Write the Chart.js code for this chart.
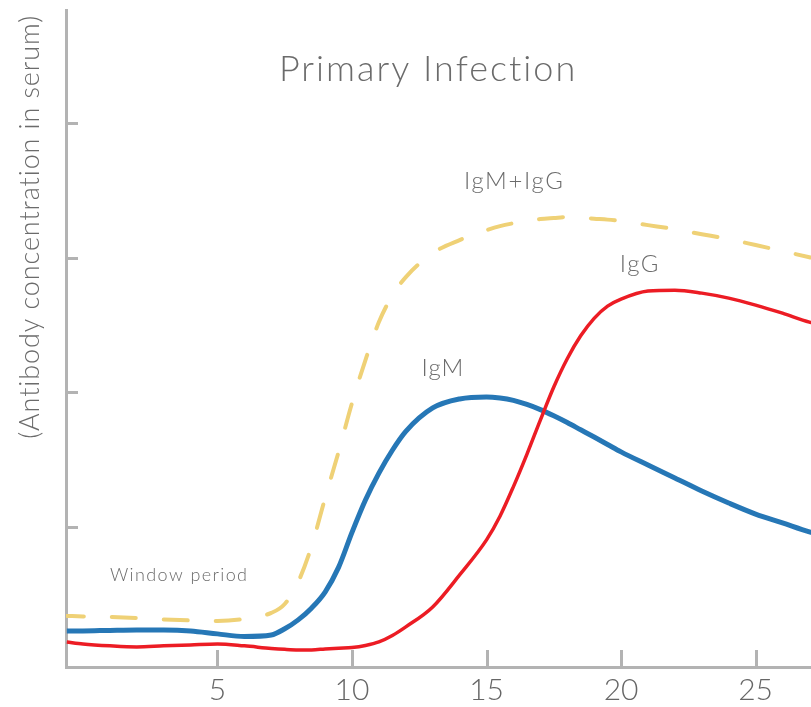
<!DOCTYPE html>
<html>
<head>
<meta charset="utf-8">
<script src="https://cdn.jsdelivr.net/npm/chart.js@4.4.1/dist/chart.umd.min.js"></script>
<style>
  html, body { margin: 0; padding: 0; background: #ffffff; }
  canvas { display: block; }
</style>
</head>
<body>
<canvas id="c" width="811" height="707"></canvas>
<script>
// ---- data (days after infection vs. relative antibody concentration) ----
const days   = [-0.6, 0, 1, 2, 3, 4, 5, 6, 7, 7.5, 8, 8.5, 9, 9.5, 10, 10.5, 11, 11.5, 12, 13, 14, 15, 15.5, 16, 16.5, 17, 17.5, 18, 18.5, 19, 19.5, 20, 21, 22, 23, 24, 25, 26, 27, 27.1];
const igm    = [0.228, 0.228, 0.232, 0.235, 0.235, 0.228, 0.206, 0.187, 0.198, 0.244, 0.310, 0.399, 0.517, 0.700, 0.960, 1.200, 1.400, 1.570, 1.710, 1.884, 1.951, 1.966, 1.958, 1.940, 1.910, 1.872, 1.826, 1.776, 1.722, 1.668, 1.613, 1.558, 1.460, 1.364, 1.267, 1.178, 1.096, 1.030, 0.963, 0.958];
const igg    = [0.146, 0.131, 0.117, 0.109, 0.117, 0.124, 0.131, 0.117, 0.098, 0.091, 0.087, 0.087, 0.094, 0.100, 0.105, 0.120, 0.146, 0.194, 0.258, 0.406, 0.644, 0.904, 1.080, 1.300, 1.540, 1.794, 2.040, 2.250, 2.420, 2.550, 2.640, 2.692, 2.752, 2.759, 2.737, 2.700, 2.648, 2.588, 2.522, 2.518];
const igmIgg = [0.339, 0.336, 0.332, 0.324, 0.313, 0.306, 0.302, 0.317, 0.362, 0.428, 0.592, 0.859, 1.215, 1.557, 1.921, 2.240, 2.522, 2.720, 2.856, 3.034, 3.131, 3.205, 3.235, 3.256, 3.272, 3.287, 3.295, 3.302, 3.298, 3.290, 3.283, 3.272, 3.242, 3.212, 3.175, 3.138, 3.094, 3.049, 3.004, 3.000];

const xTicks = [5, 10, 15, 20, 25];
const yTicks = [1, 2, 3, 4];
const xRange = [-0.63, 27.06];
const yRange = [-0.04, 4.84];

const chartTitle = 'Primary Infection';
const yAxisTitle = '(Antibody concentration in serum)';
const seriesNames = ['IgG', 'IgM', 'IgM+IgG'];
const noteText = 'Window period';

// annotation anchors in data units (x = day, y = concentration)
const textAnchors = [
  { text: chartTitle,     x: 12.79, y: 4.311, size: 36, spacing: 2.0 },
  { text: 'IgM+IgG',      x: 16.0,  y: 3.509, size: 24, spacing: 1.6 },
  { text: 'IgG',          x: 20.67, y: 2.893, size: 24, spacing: 1.5 },
  { text: 'IgM',          x: 13.36, y: 2.121, size: 24, spacing: 1.2 },
  { text: noteText,       x: 3.55,  y: 0.599, size: 18, spacing: 1.4 }
];

const FONT = 'Lato, "Open Sans", "Noto Sans", sans-serif';
const AXIS_GREY = '#b3b3b3';
const TEXT_GREY = '#6b6b6b';

const toXY = (ys) => days.map((d, i) => ({ x: d, y: ys[i] }));

const decor = {
  id: 'decor',
  beforeDatasetsDraw(chart) {
    const { ctx, chartArea, scales } = chart;
    ctx.save();
    ctx.strokeStyle = AXIS_GREY;
    ctx.lineWidth = 3;
    ctx.lineCap = 'butt';
    xTicks.forEach(v => {
      const px = Math.round(scales.x.getPixelForValue(v)) + 0.5;
      ctx.beginPath();
      ctx.moveTo(px, chartArea.bottom);
      ctx.lineTo(px, chartArea.bottom - 17);
      ctx.stroke();
    });
    yTicks.forEach(v => {
      const py = Math.round(scales.y.getPixelForValue(v)) + 0.5;
      ctx.beginPath();
      ctx.moveTo(chartArea.left, py);
      ctx.lineTo(chartArea.left + 12, py);
      ctx.stroke();
    });
    ctx.restore();
  },
  afterDatasetsDraw(chart) {
    const { ctx, chartArea, scales } = chart;
    ctx.save();
    ctx.fillStyle = TEXT_GREY;
    ctx.textAlign = 'center';
    ctx.textBaseline = 'alphabetic';
    textAnchors.forEach(a => {
      ctx.font = `300 ${a.size}px ${FONT}`;
      ctx.letterSpacing = a.spacing + 'px';
      ctx.fillText(a.text, scales.x.getPixelForValue(a.x) + a.spacing / 2, scales.y.getPixelForValue(a.y));
    });
    ctx.translate(chartArea.left - 36, chartArea.top + 5);
    ctx.rotate(-Math.PI / 2);
    ctx.textAlign = 'right';
    ctx.textBaseline = 'middle';
    ctx.font = `300 27px ${FONT}`;
    ctx.letterSpacing = '0.9px';
    ctx.fillText(yAxisTitle, 0, 0);
    ctx.restore();
  }
};

new Chart(document.getElementById('c'), {
  type: 'line',
  data: {
    datasets: [
      { label: seriesNames[0], data: toXY(igg),    borderColor: '#ec1c24', borderWidth: 3.5 },
      { label: seriesNames[1], data: toXY(igm),    borderColor: '#2677b6', borderWidth: 5 },
      { label: seriesNames[2], data: toXY(igmIgg), borderColor: '#efd176', borderWidth: 4,
        borderDash: [24, 28], borderDashOffset: 7, borderCapStyle: 'round' }
    ]
  },
  options: {
    responsive: false,
    devicePixelRatio: 1,
    animation: false,
    parsing: false,
    layout: { padding: { top: 10, right: 0, bottom: 0, left: 0 } },
    elements: {
      point: { radius: 0, hoverRadius: 0 },
      line: { cubicInterpolationMode: 'monotone', fill: false }
    },
    plugins: {
      legend: { display: false },
      tooltip: { enabled: false },
      title: { display: false }
    },
    scales: {
      x: {
        type: 'linear',
        min: xRange[0],
        max: xRange[1],
        afterBuildTicks: s => { s.ticks = xTicks.map(v => ({ value: v })); },
        afterFit: s => { s.height = 40; },
        grid: { display: false, drawTicks: false },
        border: { display: true, color: AXIS_GREY, width: 3 },
        ticks: { color: '#666666', font: { family: FONT, size: 30, weight: 300 }, padding: 5, maxRotation: 0, autoSkip: false }
      },
      y: {
        type: 'linear',
        min: yRange[0],
        max: yRange[1],
        afterBuildTicks: s => { s.ticks = yTicks.map(v => ({ value: v })); },
        afterFit: s => { s.width = 66; },
        grid: { display: false, drawTicks: false },
        border: { display: true, color: AXIS_GREY, width: 3 },
        ticks: { display: false }
      }
    }
  },
  plugins: [decor]
});
</script>
</body>
</html>
